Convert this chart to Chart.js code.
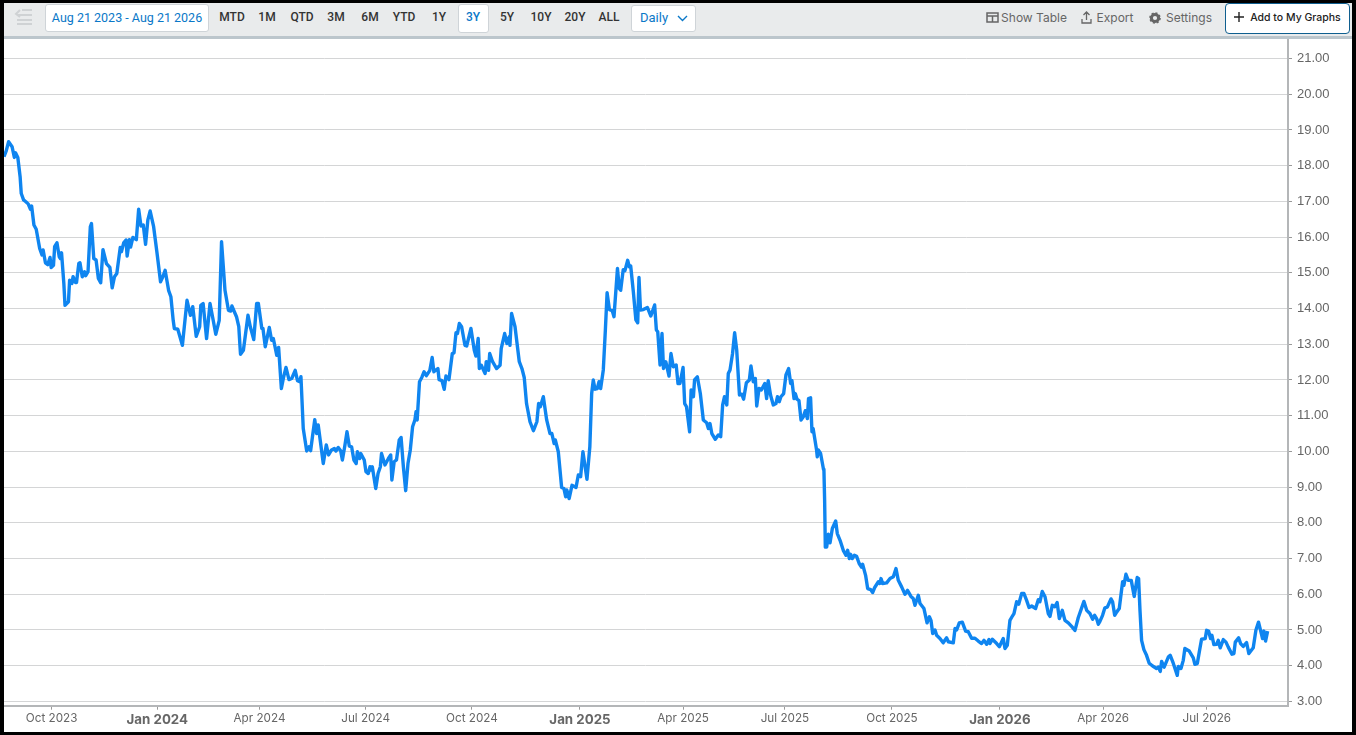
<!DOCTYPE html>
<html><head><meta charset="utf-8">
<script src="https://cdn.jsdelivr.net/npm/chart.js@4"></script>
<style>
html,body{margin:0;padding:0;width:1356px;height:735px;overflow:hidden;background:#000}
#page{position:absolute;left:4px;top:3px;width:1348px;height:729px;background:#fff;overflow:hidden}
#bar{position:absolute;left:0;top:0;width:1348px;height:33px;background:#e9ebec;border-bottom:3px solid #bcc6cc}
#chart{position:absolute;left:4px;top:39px}
.t{position:absolute;top:17px;transform:translate(-50%,-50%);white-space:nowrap;font-family:Roboto,sans-serif}
.r{font-size:12px;font-weight:500;color:#333}
.g{font-family:Inter,sans-serif;font-size:12px;color:#666}
.box{position:absolute;background:#fff;border:1px solid #cfd4d8;border-radius:3px;box-sizing:border-box}
svg{position:absolute}
</style></head><body>
<div id="page"><div id="bar"></div></div>
<div class="box" style="left:45px;top:4px;width:164px;height:28px"></div>
<div class="box" style="left:458px;top:4px;width:31px;height:29px"></div>
<div class="box" style="left:631px;top:5px;width:65px;height:27px"></div>
<div class="box" style="left:1225px;top:3px;width:125px;height:31px;border-color:#0f5f8f;border-radius:4px"></div>
<svg style="left:14px;top:8px" width="20" height="18" fill="none" stroke="#cfd2d4" stroke-width="2"><path d="M8 2h10M3 7h15M3 12h15M3 16h15M6 2L2 6l4 3"/></svg>
<svg style="left:986px;top:12px" width="13" height="11" fill="none" stroke="#666" stroke-width="1.5"><path d="M1 1h11v9H1zM1 4h11M6.5 4v6"/></svg>
<svg style="left:1081px;top:11px" width="11" height="13" fill="none" stroke="#666" stroke-width="1.3"><path d="M5.5 9V1M2.5 4l3-3 3 3M1 8v4h9V8"/></svg>
<svg style="left:1149px;top:12px" width="12" height="12"><circle cx="6" cy="6" r="3.6" fill="none" stroke="#666" stroke-width="3"/><circle cx="6" cy="6" r="5" fill="none" stroke="#666" stroke-width="1.6" stroke-dasharray="2 1.9"/></svg>
<svg style="left:1233px;top:11px" width="12" height="12" stroke="#222" stroke-width="1.4"><path d="M6 1v10M1 6h10"/></svg>
<svg style="left:677px;top:15px" width="11" height="7" fill="none" stroke="#0a78c8" stroke-width="1.4"><path d="M1 1l4.5 4.5L10 1"/></svg>
<span class="t" style="left:127px;font-size:12.5px;color:#0a78c8">Aug 21 2023 - Aug 21 2026</span>
<span class="t r" style="left:232px">MTD</span>
<span class="t r" style="left:267px">1M</span>
<span class="t r" style="left:302px">QTD</span>
<span class="t r" style="left:336px">3M</span>
<span class="t r" style="left:370px">6M</span>
<span class="t r" style="left:404px">YTD</span>
<span class="t r" style="left:439px">1Y</span>
<span class="t r" style="left:473px;color:#0a78c8">3Y</span>
<span class="t r" style="left:507px">5Y</span>
<span class="t r" style="left:541px">10Y</span>
<span class="t r" style="left:575px">20Y</span>
<span class="t r" style="left:609px">ALL</span>
<span class="t" style="left:654px;font-size:13px;color:#0a78c8">Daily</span>
<span class="t g" style="left:1034px">Show Table</span>
<span class="t g" style="left:1115px">Export</span>
<span class="t g" style="left:1189px">Settings</span>
<span class="t" style="left:1295.5px;font-family:Inter,sans-serif;font-size:10.5px;font-weight:500;color:#222">Add to My Graphs</span>
<canvas id="chart" width="1348" height="693"></canvas>
<script>
const dayOffsets=[
0,2,4,7,9,10,12,14,15,17,19,21,23,24,26,28,31,33,34,36,
38,40,41,43,44,46,48,49,50,52,53,56,57,59,60,62,63,65,66,68,
70,71,73,75,76,78,80,82,84,86,89,92,94,96,98,101,102,104,106,107,
109,110,112,115,117,119,121,123,125,127,130,133,136,138,140,143,145,147,148,151,
155,159,162,164,167,169,170,171,173,176,179,182,184,187,189,192,195,197,198,202,
204,205,205.5,208,212,214,217,219.5,221,224,225,227,230.5,232.5,234,237,238.6,241,243,245,
247.6,250,253,255,257,258,260,263,265,266.4,268,270,271.6,273,277.4,280,282,284.6,287,288.4,
290.4,292.5,294,296,298,300,302,304,306,307,309,310,313,314.5,316.5,318,319,320,323,325,
327,328,331,334,336,337,339,341,343.4,345,347,349,351,353,355,357,358,359,361,363,
365,367,370,372,373.5,377,378,380.5,382.5,384,386.6,389.5,391,392.7,394,395.6,397.6,400.5,402,405.7,
408.6,410,412,413,414.7,418,419,421,422,424.5,428,431,432,435,437,439,439.6,441,444,447.7,
450,452,454,457,460,463,464.5,466,468.6,471.5,474.4,476,478,479,481.6,484.5,486.5,488,489,491,
493.5,497,499,501,503,506.5,509,510.6,512,513.5,515.5,517,518.4,520.7,522.5,524,526,528.5,530,533,
534.6,535.8,538,539.5,541.9,543.3,544.5,546.8,549,550.6,551.7,553,555.5,559,562,565.3,566.8,568,570,571.7,
573,575,577.8,579.5,581.5,584,585.6,587.3,590,591.4,593,595.7,597,599,600,602.4,605,607.6,610.5,612,
613.4,615,618,620.6,622.7,624.4,626,628,629.3,630.8,633,634.8,636.6,639,641,642.6,645,647.6,649,651,
652.8,654,656,658,661,662.6,664,666,668.4,670.7,672,673.6,675,677.4,679.4,681.7,683.5,684.6,686.4,687.5,
689,690.7,692.5,694.5,696.2,698,699,700.8,702,703,706,706.6,707.5,709.5,712,712.4,713,713.6,714.8,716.2,
717.7,719.7,722.6,724,726.4,729.2,731.6,733,734.5,735.6,737,738.8,740.8,743,745,746,748.6,750.4,753,754.7,
756.5,759.7,761,762,763.4,766.9,769.8,772.7,775,777,780,782.8,785,788,790,791.5,794.4,795.9,799.3,802,
804,805.4,806.9,808.9,810.3,813.2,816,819,820.5,824.8,826.3,827.7,830,832.6,835.5,837.8,840.7,843.6,846.5,849.4,
851.5,853.8,855.8,856.7,858.7,862.5,864.8,868.2,869.7,871.7,874,875.8,877.5,879.8,881.6,884.2,886.2,888.5,890.6,892.9,
896.3,898.7,900,902.1,904.5,907.3,908.8,910.8,913,915,916.9,919.5,921.8,924.7,927.6,930.5,933.4,938.3,940.7,943.5,
945.9,947.6,949.3,950.8,952.2,954.5,956.5,958.6,961.8,963.2,965,966.7,969,971.9,973,974.8,976.8,979.4,982,984.6,
985.8,987,988.4,990.4,992.7,995,998,1001.4,1002.9,1004.6,1005.8,1008,1011.6,1013.3,1015.9,1019.4,1020.3,1022.6,1024.6,1026,
1029.8,1033.3,1034.7,1036.8,1038.5,1040.5,1043.7,1044.9,1046.6,1048.3,1049.5,1051.2,1053.6,1055,1056.7,1059.4,1061.7,1063.7,1066.9,1068.6,
1069.8,1072.7,1074.4,1076.7,1079.6,1081.6,1085.4,1087.7,1090,1093.5,1094.7,1096.1,1097.9];
const prices=[
18.25,18.42,18.67,18.53,18.23,18.36,18.23,17.69,17.22,17.04,16.99,16.93,16.78,16.87,16.34,16.22,15.68,15.5,15.64,15.28,
15.23,15.43,15.15,15.21,15.73,15.84,15.45,15.4,15.56,14.7,14.09,14.19,14.79,14.7,14.89,14.73,14.73,15.26,15.28,14.89,
15.03,14.92,15.03,16.29,16.38,15.4,15.36,14.84,14.72,15.65,15.26,15.15,14.58,14.89,14.98,15.71,15.59,15.84,15.92,15.47,
15.93,15.72,15.99,15.93,16.78,16.31,16.34,15.8,16.48,16.73,16.29,15.54,14.75,14.89,15.07,14.51,14.33,13.67,13.44,13.42,
12.97,14.23,13.81,14.05,13.22,13.4,13.49,14.09,14.14,13.16,14.14,13.63,13.28,13.67,15.87,14.51,13.95,13.93,14.07,13.77,
13.49,12.97,12.72,12.83,13.81,13.49,13.13,14.14,14.14,13.44,13.44,12.93,13.47,13.11,13.16,12.69,12.91,11.76,12.09,12.35,
12.01,12.04,12.27,11.98,11.95,12.09,10.64,10.01,10.13,10.02,10.41,10.89,10.5,10.74,9.66,10.18,9.9,10.04,10.08,10.01,
10.11,10.02,9.76,10.13,10.55,10.15,10.13,9.76,9.66,9.99,9.8,9.94,9.76,9.43,9.38,9.57,9.48,9.57,8.96,9.38,
9.57,9.94,9.62,9.8,9.9,9.2,9.71,9.76,10.32,10.39,9.57,8.9,9.66,10.04,10.69,10.88,11.11,10.88,11.95,12.07,
12.23,12.12,12.27,12.63,12.23,12.32,12.01,11.98,11.74,12.11,12.01,12.74,12.76,13.32,13.3,13.58,13.49,12.97,12.95,13.44,
12.83,12.67,13.16,12.32,12.41,12.18,12.51,12.27,12.74,12.51,12.32,12.41,12.88,13.3,13.02,13.21,12.97,13.86,13.49,12.51,
12.32,12.07,11.34,10.83,10.58,10.83,11.34,11.25,11.53,10.88,10.5,10.5,10.22,10.32,9.99,8.99,8.96,8.73,8.92,8.68,
9.05,8.99,9.34,9.29,9.99,9.22,10.13,11.62,12,11.74,11.76,11.95,11.76,12.28,13.4,14.44,13.97,13.94,13.77,15.12,
14.56,14.51,15.09,15.06,15.35,15.17,15.19,14.47,13.68,13.6,14.87,13.96,13.97,14.03,13.79,14.1,13.4,13.35,12.42,13.3,
12.32,12.51,12.11,12.74,12.37,12.42,11.9,11.9,12.35,11.34,11.25,10.55,11.72,11.53,12,12.09,11.62,10.88,10.8,10.64,
10.78,10.5,10.34,10.46,10.41,11.3,11.53,11.3,12.18,12.28,12.74,13.32,12.84,11.58,11.6,11.46,11.92,12,12.39,11.95,
12.04,11.27,11.76,11.72,11.9,11.48,11.98,11.58,11.3,11.34,11.53,11.39,11.53,11.62,12.14,12.32,11.9,11.98,11.48,11.62,
11.46,11.42,10.88,10.97,11.14,10.92,11.48,11.5,10.55,10.64,10.04,9.85,10.04,9.94,9.5,9.47,8.63,7.32,7.32,7.68,
7.44,7.84,8.05,7.7,7.51,7.23,7.09,7.23,7,7.12,7,7.09,7.06,6.86,6.76,6.84,6.53,6.16,6.13,6.05,
6.19,6.35,6.3,6.44,6.3,6.32,6.44,6.49,6.72,6.39,6.2,6,6.11,5.94,5.88,5.69,5.97,5.74,5.6,5.2,
5.37,5.27,4.9,5,4.85,4.76,4.64,4.78,4.67,4.64,5.04,5,5.2,5.22,4.97,4.95,4.77,4.77,4.69,4.62,
4.71,4.6,4.73,4.62,4.74,4.62,4.53,4.76,4.48,4.57,5.27,5.37,5.46,5.79,5.72,6.02,6.02,5.83,5.63,5.67,
5.6,5.85,5.79,6.08,5.93,5.46,5.38,5.69,5.65,5.77,5.32,5.55,5.27,5.2,5.1,4.99,5.35,5.8,5.55,5.46,
5.3,5.41,5.32,5.16,5.24,5.41,5.62,5.64,5.87,5.79,5.41,5.5,5.6,6.35,6.25,6.56,6.39,6.39,5.94,6.47,
6.44,5.55,4.71,4.45,4.29,4.07,3.99,3.92,3.96,3.84,4.12,3.96,4.24,4.29,4.07,3.73,3.98,3.92,4.15,4.48,
4.41,4.22,4.04,4.06,4.38,4.74,4.76,4.99,4.97,4.76,4.85,4.59,4.6,4.71,4.5,4.73,4.66,4.52,4.32,4.34,
4.66,4.78,4.62,4.54,4.65,4.34,4.5,4.99,5.22,4.76,4.97,4.69,4.97];
const xTickDays=[41.4,133.2,222,314.2,406.6,500.4,590,678.5,771.5,865.3,955,1045];
const xTickLabels=["Oct 2023","Jan 2024","Apr 2024","Jul 2024","Oct 2024","Jan 2025","Apr 2025","Jul 2025","Oct 2025","Jan 2026","Apr 2026","Jul 2026"];
const yTicks=[3,4,5,6,7,8,9,10,11,12,13,14,15,16,17,18,19,20,21];
if(dayOffsets.length!==prices.length)console.error("length mismatch",dayOffsets.length,prices.length);
const isJan=c=>c.tick&&String(xTickLabels[xTickDays.indexOf(c.tick.value)]).startsWith('Jan');
new Chart(document.getElementById('chart'),{
  type:'line',
  data:{datasets:[{data:dayOffsets.map((d,i)=>({x:d,y:prices[i]})),borderColor:'#0f85f0',borderWidth:3.4,pointRadius:0,tension:0,fill:false,borderJoinStyle:'round'}]},
  options:{
    responsive:false,animation:false,events:[],
    layout:{padding:0},
    plugins:{legend:{display:false},tooltip:{enabled:false}},
    scales:{
      x:{type:'linear',min:0,max:1115.6,
        afterFit(s){s.height=26.3;s.paddingLeft=0;s.paddingRight=0;},
        afterBuildTicks(s){s.ticks=xTickDays.map(v=>({value:v}));},
        border:{color:'#b4b6b8',width:2},
        grid:{drawOnChartArea:false,drawTicks:true,tickLength:4,tickColor:'#999'},
        ticks:{autoSkip:false,maxRotation:0,padding:2,color:'#666',
          font:c=>isJan(c)?{family:'Inter, sans-serif',size:13.3,weight:'700'}:{family:'Inter, sans-serif',size:11.7,weight:'400'},
          callback:v=>xTickLabels[xTickDays.indexOf(v)]}},
      y:{type:'linear',position:'right',min:2.88,max:21.546,
        afterFit(s){s.width=64;s.paddingTop=0;s.paddingBottom=0;},
        afterBuildTicks(s){s.ticks=yTicks.map(v=>({value:v}));},
        border:{color:'#b4b6b8',width:2},
        grid:{color:'#d4d5d6',lineWidth:1,drawTicks:true,tickLength:4,tickColor:'#999'},
        ticks:{padding:5,color:'#666',font:{family:'"Liberation Sans", Arial, sans-serif',size:13},callback:v=>v.toFixed(2)}}
    }
  }
});
</script>
</body></html>
